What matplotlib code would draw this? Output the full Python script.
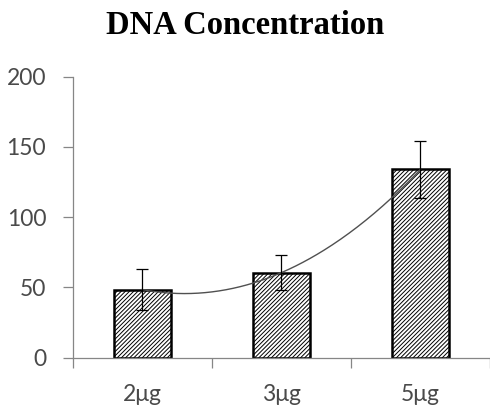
import matplotlib.pyplot as plt
import numpy as np

# Datos
categorias = ["2μg", "3μg", "5μg"]
concentracion = [48.5, 60.5, 134.0]
error = [14.5, 12.3, 20.0]

plt.rcParams['hatch.linewidth'] = 0.7
plt.rcParams['hatch.color'] = 'black'

fig = plt.figure(figsize=(4.9, 4.08), dpi=100)
ax = fig.add_axes([0.148, 0.1233, 1.0 - 0.148, 0.812 - 0.1233])

x = np.arange(len(categorias))
ax.bar(x, concentracion, width=0.41, color="white", edgecolor="black",
       linewidth=1.8, hatch="////////", zorder=2)
ax.errorbar(x, concentracion, yerr=error, fmt="none", ecolor="black",
            elinewidth=0.9, capsize=4, capthick=0.9, zorder=4)

# Linea de tendencia polinomica (orden 2)
coef = np.polyfit(x, concentracion, 2)
xs = np.linspace(x[0], x[-1], 200)
ax.plot(xs, np.polyval(coef, xs), color="#505050", linewidth=1.0, zorder=3)

ax.set_ylim(0, 200)
ax.set_xlim(-0.5, 2.5 - 2.7 / 140)
ax.set_yticks(np.arange(0, 201, 50))

# Ticks mayores en los limites de categoria, etiquetas en el centro
ax.set_xticks(np.arange(-0.5, 3.0, 1.0))
ax.set_xticklabels([])
ax.set_xticks(x, minor=True)
ax.set_xticklabels(categorias, minor=True)
ax.tick_params(axis="x", which="minor", length=0, pad=19)
ax.tick_params(axis="x", which="major", length=7, width=0.9, color="#868686")
ax.tick_params(axis="y", length=7, width=0.9, color="#868686", pad=12)

for lbl in ax.get_yticklabels() + ax.get_xticklabels(minor=True):
    lbl.set_fontfamily("Lato")
    lbl.set_fontsize(16.5)
    lbl.set_color("#4a4a4a")

for s in ["top", "right"]:
    ax.spines[s].set_visible(False)
for s in ["left", "bottom"]:
    ax.spines[s].set_color("#868686")
    ax.spines[s].set_linewidth(0.9)

fig.text(0.5, 0.937, "DNA Concentration", ha="center", va="center",
         fontfamily="Liberation Serif", fontweight="bold", fontsize=23.5)

fig.savefig("out.png", dpi=100)
